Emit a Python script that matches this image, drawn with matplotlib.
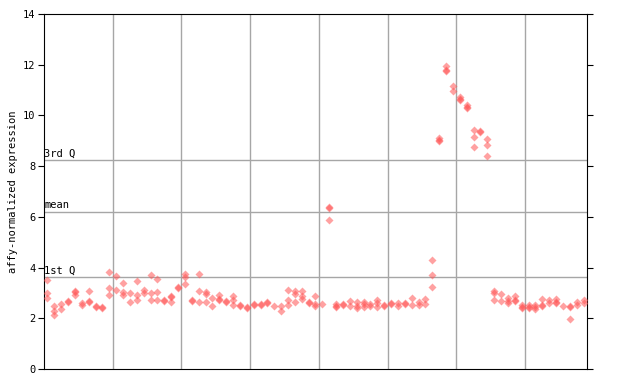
import numpy as np
import matplotlib
matplotlib.use('Agg')
import matplotlib.pyplot as plt

# expression values per sample (replicates)
samples = [
    [3.50, 2.99, 2.79], [2.48, 2.30, 2.13], [2.58, 2.35], [2.67, 2.63],
    [3.07, 3.02, 2.90], [2.59, 2.51], [3.06, 2.67, 2.63], [2.48, 2.44],
    [2.43, 2.39], [3.81, 3.18, 2.91],
    [3.67, 3.12], [3.39, 3.02, 2.92], [2.98, 2.64], [3.46, 2.91, 2.72],
    [3.12, 2.98], [3.71, 2.98, 2.71], [3.55, 3.05, 2.71], [2.71, 2.67],
    [2.87, 2.83, 2.65], [3.23, 3.19],
    [3.73, 3.64, 3.34], [2.74, 2.70], [3.73, 3.09, 2.64], [3.05, 2.96, 2.65],
    [2.79, 2.48], [2.92, 2.75, 2.72], [2.67, 2.63], [2.88, 2.72, 2.51],
    [2.54, 2.50], [2.44, 2.40],
    [2.57, 2.53], [2.57, 2.53], [2.64, 2.60], [2.50], [2.50, 2.29],
    [3.12, 2.74, 2.51], [3.09, 2.96, 2.64], [3.09, 2.88, 2.77], [2.66, 2.62],
    [2.88, 2.55, 2.48],
    [2.56], [6.38, 6.34, 5.86], [2.48, 2.44, 2.55], [2.56, 2.52],
    [2.68, 2.50], [2.63, 2.50, 2.42], [2.63, 2.55, 2.45], [2.55, 2.47],
    [2.72, 2.59, 2.46], [2.52, 2.48],
    [2.60, 2.56], [2.59, 2.49], [2.61, 2.57], [2.80, 2.52], [2.64, 2.52],
    [2.76, 2.56], [4.28, 3.69, 3.23], [9.10, 9.02, 8.98], [11.95, 11.81, 11.77],
    [11.16, 10.96],
    [10.71, 10.63, 10.59], [10.41, 10.32, 10.28], [9.41, 9.15, 8.75],
    [9.40, 9.36], [9.06, 8.83, 8.40], [3.08, 3.01, 2.71], [2.94, 2.67],
    [2.79, 2.67, 2.60], [2.87, 2.71, 2.67], [2.52, 2.45, 2.41],
    [2.52, 2.45, 2.41], [2.52, 2.43, 2.35], [2.75, 2.54, 2.50], [2.71, 2.61],
    [2.75, 2.63, 2.59], [2.47], [2.48, 2.44, 1.97], [2.64, 2.52], [2.72, 2.59],
]

q1, mean, q3 = 3.63, 6.21, 8.23
group_size = 10

fig = plt.figure(figsize=(6.4, 3.84), dpi=100)
ax = fig.add_axes([0.06875, 0.039, 0.8484, 0.9245])

xs = []
ys = []
for i, vals in enumerate(samples):
    for v in vals:
        xs.append(i)
        ys.append(v)

n = len(samples)
for g in np.arange(group_size - 0.5, n - 1, group_size):
    ax.axvline(g, color='#a6a6a6', lw=1, zorder=1)
for h in (q1, mean, q3):
    ax.axhline(h, color='#a6a6a6', lw=1, zorder=1)

ax.plot(xs, ys, ls='none', marker='D', ms=3.6, mfc='#ff5555', mec='none',
        alpha=0.55, zorder=3)

tfont = dict(family='DejaVu Sans Mono', fontsize=7.5)
for h, lab in ((q3, '3rd Q'), (mean, 'mean'), (q1, '1st Q')):
    ax.text(-0.45, h + 0.05, lab, ha='left', va='bottom', **tfont)

ax.set_xlim(-0.5, n - 0.5)
ax.set_ylim(0, 14)
ax.set_yticks(range(0, 15, 2))
ax.set_xticks([])
ax.tick_params(axis='y', which='both', direction='out', length=4,
               right=True, labelsize=7.5, pad=2)
for lab in ax.get_yticklabels():
    lab.set_family('DejaVu Sans Mono')
ax.set_ylabel('affy-normalized expression', family='DejaVu Sans Mono',
              fontsize=7.5, labelpad=4)

fig.savefig('out.png', dpi=100)
